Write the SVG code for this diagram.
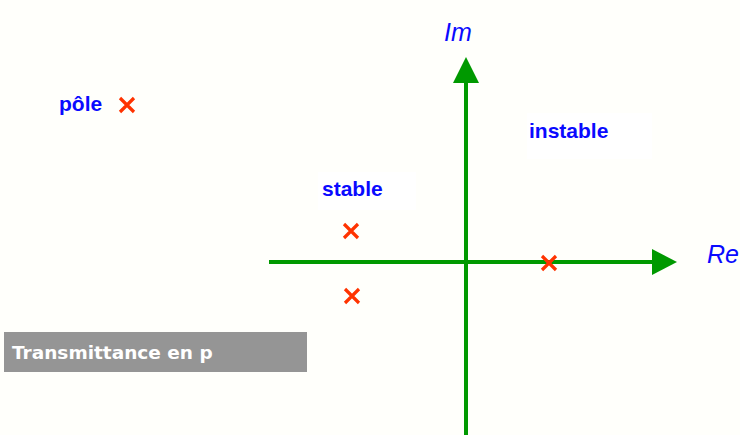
<svg xmlns="http://www.w3.org/2000/svg" width="740" height="435" viewBox="0 0 740 435">
<defs>
<style>
.lbl{font-family:"Liberation Sans",Arial,sans-serif;font-weight:bold;font-size:21px;fill:#0a0aff}
.ax{font-family:"Liberation Sans",Arial,sans-serif;font-style:italic;font-size:25px;fill:#0a0aff}
.axis{stroke:#009900;stroke-width:4;fill:none}
.head{fill:#009900}
.x{stroke:#ff3300;stroke-width:3.2;fill:none}
.pad{fill:#ffffff}
</style>
<g id="cross"><path class="x" d="M-7,-7L7,7M7,-7L-7,7"/></g>
</defs>
<rect width="740" height="435" fill="#fffffb"/>
<g id="connectors">
<line class="axis" x1="269" y1="262" x2="654" y2="262"/>
<polygon class="head" points="652,249 677,262 652,275"/>
<line class="axis" x1="466" y1="435" x2="466" y2="80"/>
<polygon class="head" points="453,83 466,57 479,83"/>
</g>
<g id="label-im"><text class="ax" x="444" y="41">Im</text></g>
<g id="label-re"><text class="ax" x="707" y="263">Re</text></g>
<g id="pole"><text class="lbl" x="59" y="111">pôle</text><use href="#cross" x="127" y="105"/></g>
<g id="stable"><rect class="pad" x="318" y="172" width="98" height="38"/><text class="lbl" x="322" y="196">stable</text></g>
<g id="instable"><rect class="pad" x="527" y="113" width="125" height="46"/><text class="lbl" x="529" y="138">instable</text></g>
<g id="poles">
<use href="#cross" x="351" y="231"/>
<use href="#cross" x="352" y="296"/>
<use href="#cross" x="549" y="263"/>
</g>
<g id="title"><rect x="4" y="332" width="303" height="40" fill="#959595"/><text x="12" y="359" font-family="'DejaVu Sans',sans-serif" font-weight="bold" font-size="18.5" fill="#ffffff">Transmittance en p</text></g>
</svg>
